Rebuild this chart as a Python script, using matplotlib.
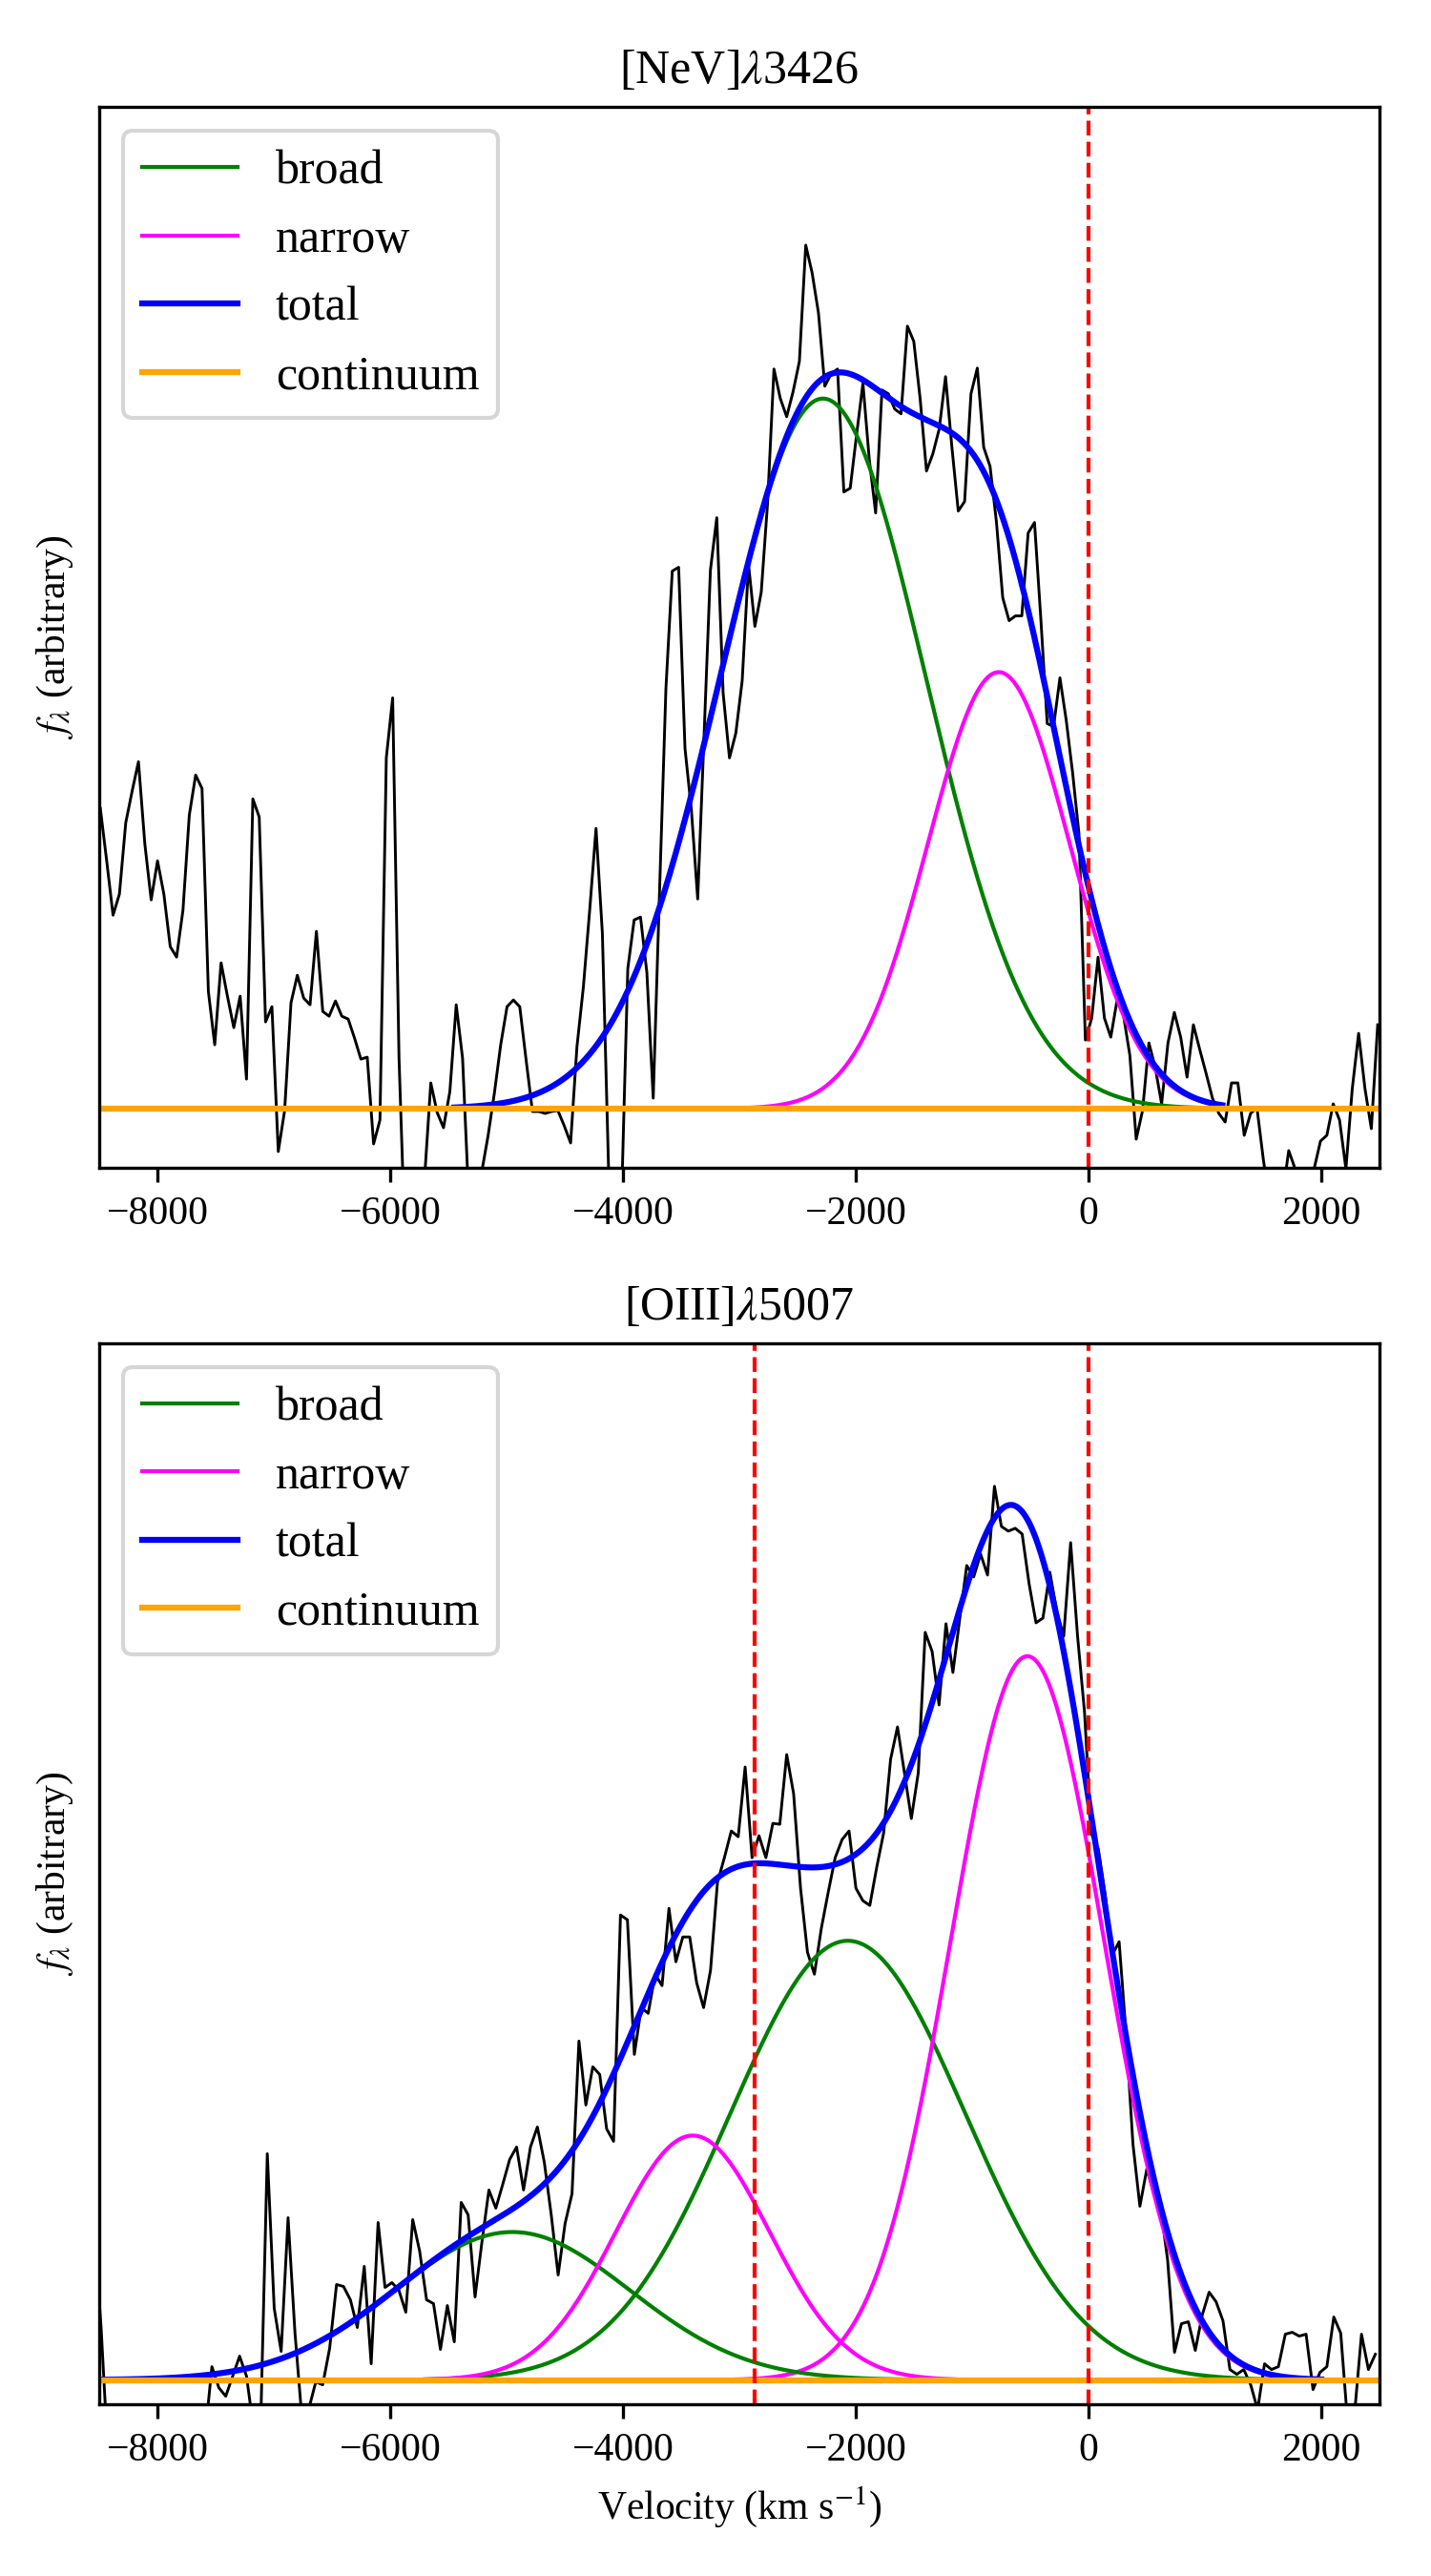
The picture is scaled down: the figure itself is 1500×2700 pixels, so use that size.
import numpy as np
import matplotlib
matplotlib.use('Agg')
import matplotlib.pyplot as plt

plt.rcParams['font.family'] = 'serif'
plt.rcParams['font.serif'] = ['Liberation Serif', 'DejaVu Serif']
plt.rcParams['mathtext.fontset'] = 'stix'
plt.rcParams['font.size'] = 10

# ---- [NeV] 3426: spectrum (continuum subtracted, arbitrary units) ----
nev_v0, nev_dv = -8490.0, 54.6   # velocity grid of the spectrum (km/s)
nev_flux = [
    3.15, 2.60, 2.03, 2.25, 3.00, 3.33, 3.64, 2.78, 2.19, 2.60,
    2.25, 1.70, 1.59, 2.08, 3.08, 3.50, 3.36, 1.23, 0.67, 1.53,
    1.18, 0.85, 1.18, 0.31, 3.25, 3.06, 0.91, 1.07, -0.45, -0.02,
    1.11, 1.40, 1.16, 1.09, 1.86, 1.02, 0.97, 1.13, 0.97, 0.94,
    0.74, 0.52, 0.54, -0.37, -0.12, 3.68, 4.31, 0.53, -1.50, -1.30,
    -1.00, -0.75, 0.27, -0.04, -0.20, 0.18, 1.09, 0.53, -0.99, -1.10,
    -0.67, -0.29, 0.16, 0.67, 1.07, 1.14, 1.07, 0.51, -0.03, -0.03,
    -0.05, -0.03, -0.02, -0.18, -0.36, 0.65, 1.27, 2.08, 2.94, 1.84,
    -0.70, -1.20, -1.00, 1.47, 1.98, 2.01, 1.43, 0.11, 2.29, 4.41,
    5.64, 5.68, 3.78, 3.14, 2.20, 3.91, 5.65, 6.20, 4.36, 3.68,
    3.94, 4.49, 5.71, 5.06, 5.42, 6.36, 7.76, 7.45, 7.26, 7.52,
    7.84, 9.06, 8.77, 8.35, 7.58, 7.71, 7.76, 6.47, 6.51, 7.07,
    7.61, 6.81, 6.25, 7.54, 7.50, 7.34, 7.29, 8.21, 8.05, 7.45,
    6.69, 6.87, 7.13, 7.68, 6.94, 6.27, 6.37, 7.50, 7.77, 6.94,
    6.74, 6.16, 5.36, 5.12, 5.17, 5.17, 6.04, 6.15, 5.13, 4.04,
    4.01, 4.52, 4.07, 3.52, 2.88, 0.72, 0.95, 1.59, 0.95, 0.75,
    1.14, 0.98, 0.56, -0.32, -0.02, 0.69, 0.43, 0.05, 0.69, 1.01,
    0.75, 0.33, 0.88, 0.62, 0.37, 0.11, -0.05, -0.14, 0.27, 0.27,
    -0.28, -0.05, 0.01, -0.53, -0.99, -1.10, -0.92, -0.44, -0.63, -0.99,
    -0.99, -0.63, -0.34, -0.28, 0.05, -0.12, -0.63, 0.21, 0.79, 0.21,
    -0.21, 0.88,
]
nev_cont = 0.0
# gaussian fit: [broad, narrow]
nev_centre = [-2281, -771]
nev_amp = [7.45, 4.58]
nev_sigma = [885, 610]
nev_model_range = [-5450, 1150]
nev_lines = [0]
nev_ylim = [-0.62, 10.51]

# ---- [OIII] 5007 (+4959) ----
oiii_v0, oiii_dv = -8543.0, 59.5
oiii_flux = [
    1.60, 0.55, -0.80, -0.70, -1.00, -0.80, -1.10, -0.70, -0.90, -1.20,
    -0.80, -0.60, -1.00, -0.90, -0.70, -1.10, -0.60, 0.14, -0.08, -0.17,
    0.04, 0.25, 0.04, -0.50, -0.60, 2.37, 0.75, 0.30, 1.70, 0.49,
    -0.40, -0.30, -0.02, -0.05, 0.33, 1.00, 0.98, 0.84, 0.55, 1.19,
    0.17, 1.65, 0.97, 1.02, 0.94, 0.71, 1.68, 1.35, 0.84, 0.80,
    0.32, 0.78, 0.40, 1.86, 1.73, 0.87, 1.45, 1.99, 1.80, 2.05,
    2.31, 2.44, 1.99, 2.44, 2.65, 2.28, 1.73, 1.10, 1.64, 1.95,
    3.55, 2.88, 3.28, 3.20, 2.63, 2.50, 4.87, 4.82, 3.41, 3.90,
    3.84, 4.25, 4.13, 4.94, 4.38, 4.64, 4.64, 4.16, 3.90, 4.29,
    5.21, 5.47, 5.75, 5.69, 6.42, 5.47, 5.70, 5.47, 5.83, 5.82,
    6.55, 6.14, 5.15, 4.48, 4.25, 4.73, 5.11, 5.47, 5.66, 5.75,
    5.15, 5.02, 4.97, 5.37, 5.73, 6.50, 6.84, 6.36, 5.88, 6.36,
    7.83, 7.63, 7.07, 7.92, 7.41, 7.98, 8.53, 8.41, 8.65, 8.43,
    9.36, 8.94, 8.89, 8.92, 8.86, 8.34, 7.93, 7.98, 8.46, 8.05,
    7.79, 8.77, 7.79, 7.00, 5.72, 5.56, 5.08, 4.45, 4.59, 3.63,
    2.47, 1.82, 2.21, 1.96, 1.80, 1.26, 0.29, 0.59, 0.61, 0.31,
    0.68, 0.92, 0.82, 0.62, 0.11, 0.06, 0.11, -0.05, -0.31, 0.17,
    0.11, 0.14, 0.48, 0.50, 0.46, 0.48, -0.10, 0.08, 0.14, 0.66,
    0.49, -0.45, -0.35, 0.48, 0.11, 0.27,
]
oiii_cont = 0.0
# gaussian fit, each list is [5007, 4959]
oiii_broad_centre = [-2068, -4950]
oiii_broad_amp = [4.60, 1.55]
oiii_broad_sigma = [1010, 1010]
oiii_narrow_centre = [-525, -3400]
oiii_narrow_amp = [7.58, 2.56]
oiii_narrow_sigma = [660, 660]
oiii_model_range = [[-5700, 2000], [-8600, -1150]]
oiii_total_range = [-8600, 2000]
oiii_lines = [0, -2870]
oiii_ylim = [-0.253, 10.857]


def gauss(v, a, c, s):
    return a * np.exp(-0.5 * ((v - c) / s) ** 2)


fig, (ax1, ax2) = plt.subplots(2, 1, figsize=(5, 9), dpi=300)
fig.subplots_adjust(left=0.0693, right=0.964, top=0.9585, bottom=0.0667, hspace=0.1655)

# top panel
v = nev_v0 + nev_dv * np.arange(len(nev_flux))
vm = np.linspace(nev_model_range[0], nev_model_range[1], 800)
broad = gauss(vm, nev_amp[0], nev_centre[0], nev_sigma[0])
narrow = gauss(vm, nev_amp[1], nev_centre[1], nev_sigma[1])
ax1.plot(v, nev_flux, color='k', lw=0.7)
ax1.plot(vm, broad + nev_cont, color='green', lw=1, label='broad')
ax1.plot(vm, narrow + nev_cont, color='magenta', lw=1, label='narrow')
ax1.plot(vm, broad + narrow + nev_cont, color='blue', lw=1.5, label='total')
ax1.plot(v, np.full(len(v), nev_cont), color='orange', lw=1.5, label='continuum')
for x in nev_lines:
    ax1.axvline(x, color='red', ls='--', lw=1)
ax1.set_ylim(nev_ylim)
ax1.set_title(r'[NeV]$\lambda$3426', fontsize=12)

# bottom panel
v = oiii_v0 + oiii_dv * np.arange(len(oiii_flux))
ax2.plot(v, oiii_flux, color='k', lw=0.7)
for i in range(2):
    vm = np.linspace(oiii_model_range[i][0], oiii_model_range[i][1], 800)
    ax2.plot(vm, gauss(vm, oiii_broad_amp[i], oiii_broad_centre[i], oiii_broad_sigma[i]) + oiii_cont,
             color='green', lw=1, label='broad' if i == 0 else None)
    ax2.plot(vm, gauss(vm, oiii_narrow_amp[i], oiii_narrow_centre[i], oiii_narrow_sigma[i]) + oiii_cont,
             color='magenta', lw=1, label='narrow' if i == 0 else None)
vt = np.linspace(oiii_total_range[0], oiii_total_range[1], 1200)
total = np.zeros_like(vt) + oiii_cont
for i in range(2):
    total += gauss(vt, oiii_broad_amp[i], oiii_broad_centre[i], oiii_broad_sigma[i])
    total += gauss(vt, oiii_narrow_amp[i], oiii_narrow_centre[i], oiii_narrow_sigma[i])
ax2.plot(vt, total, color='blue', lw=1.5, label='total')
ax2.plot(v, np.full(len(v), oiii_cont), color='orange', lw=1.5, label='continuum')
for x in oiii_lines:
    ax2.axvline(x, color='red', ls='--', lw=1)
ax2.set_ylim(oiii_ylim)
ax2.set_title(r'[OIII]$\lambda$5007', fontsize=12)
ax2.set_xlabel(r'Velocity (km s$^{-1}$)')

for ax in (ax1, ax2):
    ax.set_xlim(-8500, 2500)
    ax.set_xticks([-8000, -6000, -4000, -2000, 0, 2000])
    ax.set_yticks([])
    ax.set_ylabel(r'$f_\lambda$ (arbitrary)', labelpad=6)
    ax.legend(loc='upper left', fontsize=12)

fig.savefig('out.png', dpi=300)
